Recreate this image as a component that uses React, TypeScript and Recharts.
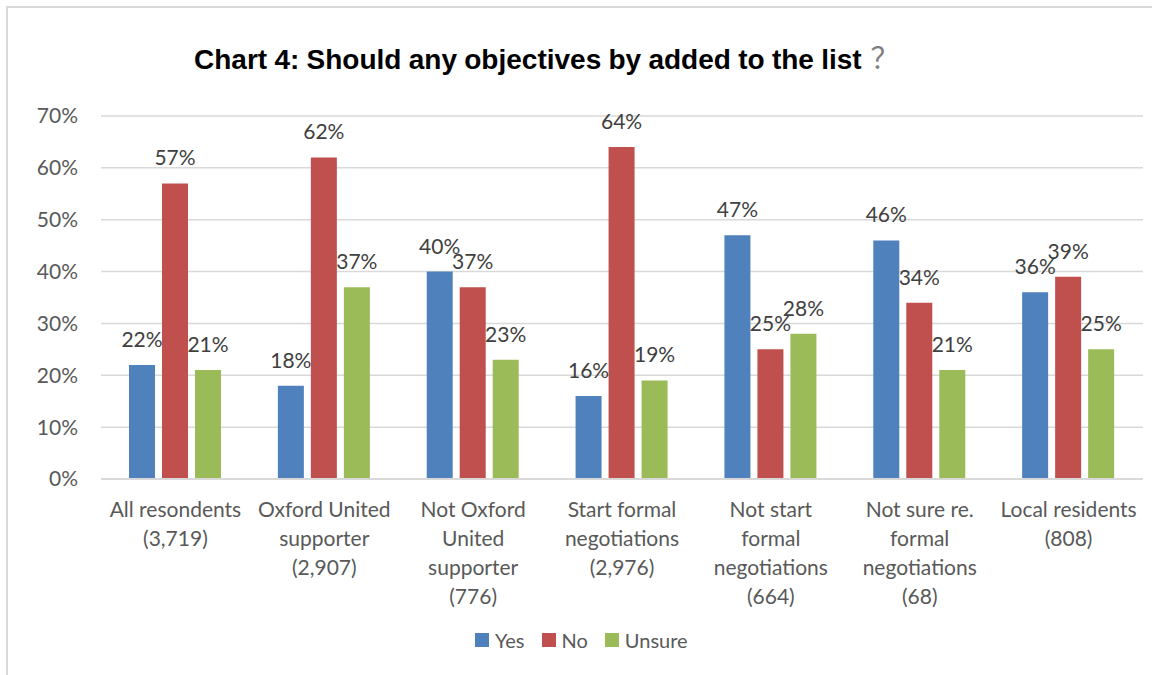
import React from "react";
import { BarChart, Bar, XAxis, YAxis, CartesianGrid, LabelList, Legend } from "recharts";

const categories = [
  "All resondents\n(3,719)",
  "Oxford United\nsupporter\n(2,907)",
  "Not Oxford\nUnited\nsupporter\n(776)",
  "Start formal\nnegotiations\n(2,976)",
  "Not start\nformal\nnegotiations\n(664)",
  "Not sure re.\nformal\nnegotiations\n(68)",
  "Local residents\n(808)",
];
const yesValues = [22, 18, 40, 16, 47, 46, 36];
const noValues = [57, 62, 37, 64, 25, 34, 39];
const unsureValues = [21, 37, 23, 19, 28, 21, 25];
const yTicks = [0, 10, 20, 30, 40, 50, 60, 70];

const series = [
  { key: "yes", name: "Yes", color: "#4F81BD" },
  { key: "no", name: "No", color: "#C0504D" },
  { key: "unsure", name: "Unsure", color: "#9BBB59" },
];

const data = categories.map((category, i) => ({
  category,
  yes: yesValues[i],
  no: noValues[i],
  unsure: unsureValues[i],
}));

const FONT = "Lato, 'Open Sans', sans-serif";

// multi-line category labels, split on \n
const CategoryTick = ({ x, y, payload }: any) => {
  const lines = String(payload.value).split("\n");
  return (
    <text x={x} y={y} textAnchor="middle" fill="#595959" fontSize={21} fontFamily={FONT}>
      {lines.map((line, i) => (
        <tspan key={i} x={x} dy={i === 0 ? 38 : 29}>
          {line}
        </tspan>
      ))}
    </text>
  );
};

const renderLegend = () => (
  <div
    style={{
      display: "flex",
      alignItems: "center",
      fontFamily: FONT,
      fontSize: 20,
      lineHeight: "20px",
      color: "#595959",
      whiteSpace: "nowrap",
    }}
  >
    {series.map((s) => (
      <div key={s.key} style={{ display: "flex", alignItems: "center", marginRight: 17 }}>
        <span style={{ display: "inline-block", width: 14, height: 14, background: s.color, marginRight: 6 }} />
        <span>{s.name}</span>
      </div>
    ))}
  </div>
);

export default function App() {
  return (
    <div style={{ position: "relative", width: 1152, height: 675, background: "#fff", overflow: "hidden" }}>
      <style>{`body{margin:0;overflow:hidden}`}</style>
      <div
        style={{
          position: "absolute",
          left: 6,
          top: 6,
          width: 1146,
          height: 669,
          boxSizing: "border-box",
          borderLeft: "2px solid #d9d9d9",
          borderTop: "2px solid #d9d9d9",
        }}
      />
      <div
        style={{
          position: "absolute",
          left: 194,
          top: 42,
          fontFamily: "'Liberation Sans', Arial, sans-serif",
          fontWeight: "bold",
          fontSize: 28,
          lineHeight: "28px",
          wordSpacing: -0.5,
          color: "#000",
          whiteSpace: "nowrap",
          zIndex: 2,
        }}
      >
        Chart 4: Should any objectives by added to the list
        <span
          style={{
            fontWeight: "normal",
            color: "#7f7f7f",
            fontFamily: "'Noto Sans CJK SC', sans-serif",
            fontSize: 29,
            marginLeft: 9,
          }}
        >
          ？
        </span>
      </div>
      <BarChart
        width={1152}
        height={675}
        data={data}
        barSize={26}
        barGap={7}
        margin={{ top: 116, right: 9, bottom: 0, left: 0 }}
      >
        <CartesianGrid vertical={false} stroke="#d9d9d9" strokeWidth={1.5} />
        <XAxis
          dataKey="category"
          interval={0}
          height={196}
          tickSize={0}
          tickMargin={0}
          tickLine={false}
          axisLine={{ stroke: "#d9d9d9", strokeWidth: 2 }}
          tick={<CategoryTick />}
        />
        <YAxis
          domain={[0, 70]}
          ticks={yTicks}
          width={101}
          tickSize={0}
          tickMargin={23}
          axisLine={false}
          tickLine={false}
          tickFormatter={(v) => `${v}%`}
          tick={{ fill: "#595959", fontSize: 21, fontFamily: FONT }}
        />
        <Legend
          layout="vertical"
          align="center"
          verticalAlign="middle"
          content={renderLegend}
          wrapperStyle={{ top: 630, left: 475, width: "auto", height: "auto" }}
        />
        {series.map((s) => (
          <Bar key={s.key} dataKey={s.key} name={s.name} fill={s.color} isAnimationActive={false}>
            <LabelList
              dataKey={s.key}
              position="top"
              offset={18}
              formatter={(v: any) => `${v}%`}
              fill="#404040"
              fontSize={21}
              fontFamily={FONT}
            />
          </Bar>
        ))}
      </BarChart>
    </div>
  );
}
